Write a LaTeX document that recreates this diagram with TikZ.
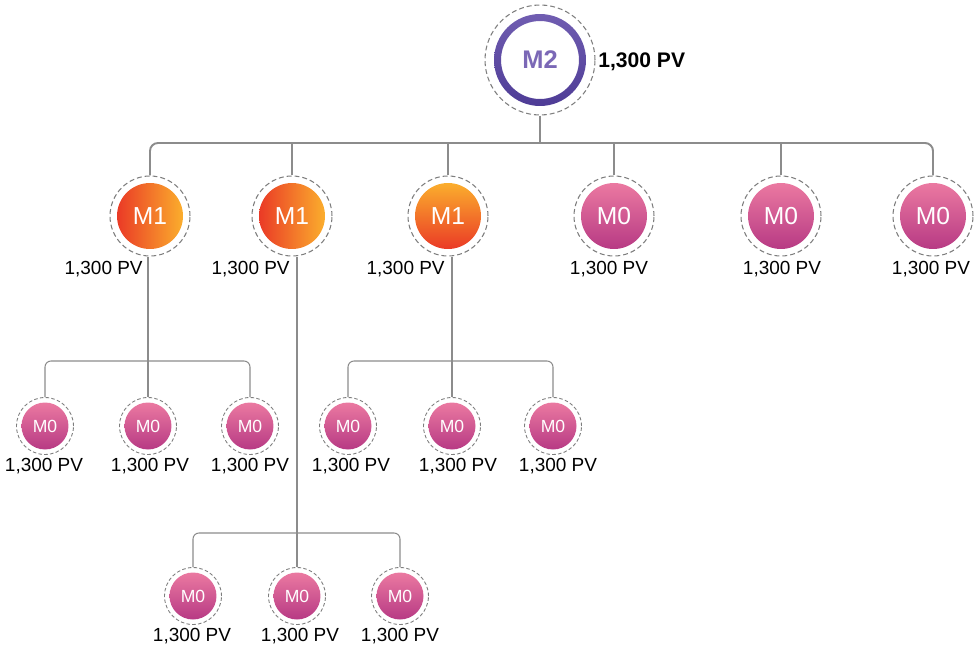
\documentclass[tikz,border=0pt]{standalone}
\usepackage{fontspec}
\setmainfont{Liberation Sans}

\definecolor{ringgray}{HTML}{7E7E7E}
\definecolor{linegray}{HTML}{8C8C8C}
\definecolor{mred}{HTML}{EA3A26}
\definecolor{myellow}{HTML}{FBAE2D}
\definecolor{pinktop}{HTML}{EB79A1}
\definecolor{pinkbot}{HTML}{B73A84}
\definecolor{purpletop}{HTML}{705DB1}
\definecolor{purplebot}{HTML}{4E3C96}
\definecolor{purpletext}{HTML}{7B68B6}

\tikzset{
  ring/.style={circle, draw=ringgray, dash pattern=on 2.8pt off 1.7pt, line width=0.6pt, minimum size=#1, inner sep=0pt},
  smallring/.style={ring=1.14cm, dash pattern=on 2pt off 1.3pt, line width=0.5pt},
  disc/.style={circle, minimum size=#1, inner sep=0pt, text=white},
  mone/.style={disc=1.32cm, left color=mred, right color=myellow, font=\fontsize{14}{16}\selectfont},
  monev/.style={disc=1.32cm, top color=myellow, bottom color=mred, font=\fontsize{14}{16}\selectfont},
  mzero/.style={disc=1.32cm, top color=pinktop, bottom color=pinkbot, font=\fontsize{14}{16}\selectfont},
  mzerosmall/.style={disc=0.94cm, top color=pinktop, bottom color=pinkbot, font=\fontsize{10}{12}\selectfont},
  pv/.style={font=\fontsize{10.8}{12}\selectfont, anchor=base, inner sep=0pt},
  topline/.style={draw=linegray, line width=1.1pt, rounded corners=4.5pt},
  subline/.style={draw=linegray, line width=0.6pt, rounded corners=3.4pt},
}

\begin{document}
\begin{tikzpicture}[x=0.02cm, y=-0.02cm]
\useasboundingbox (0,0) rectangle (980,649);

% top
\node[ring=2.2cm] (m2) at (540,60) {};
\shade[top color=purpletop, bottom color=purplebot, even odd rule] (m2.center) circle (0.92cm) circle (0.78cm);
\node[text=purpletext, font=\bfseries\fontsize{14.5}{16}\selectfont] (m2 text) at (m2) {M2};
\node[pv, anchor=base west, font=\bfseries\fontsize{12}{14}\selectfont] (pv m2) at (598,67) {1,300 PV};

% first row
\node[ring=1.6cm] (m1a) at (150,216) {};
\node[mone] (m1a disc) at (m1a) {M1};
\node[ring=1.6cm] (m1b) at (292,216) {};
\node[mone] (m1b disc) at (m1b) {M1};
\node[ring=1.6cm] (m1c) at (448,216) {};
\node[monev] (m1c disc) at (m1c) {M1};
\node[ring=1.6cm] (m0a) at (614,216) {};
\node[mzero] (m0a disc) at (m0a) {M0};
\node[ring=1.6cm] (m0b) at (781,216) {};
\node[mzero] (m0b disc) at (m0b) {M0};
\node[ring=1.6cm] (m0c) at (933,216) {};
\node[mzero] (m0c disc) at (m0c) {M0};

\node[pv, anchor=base east] (pv m1a) at (143,274) {1,300 PV};
\node[pv, anchor=base east] (pv m1b) at (290,274) {1,300 PV};
\node[pv, anchor=base east] (pv m1c) at (445,274) {1,300 PV};
\node[pv] (pv m0a) at (609,274) {1,300 PV};
\node[pv] (pv m0b) at (782,274) {1,300 PV};
\node[pv] (pv m0c) at (931,274) {1,300 PV};

% second row
\node[smallring] (m0d) at (45,426) {};
\node[mzerosmall] (m0d disc) at (m0d) {M0};
\node[smallring] (m0e) at (148,426) {};
\node[mzerosmall] (m0e disc) at (m0e) {M0};
\node[smallring] (m0f) at (250,426) {};
\node[mzerosmall] (m0f disc) at (m0f) {M0};
\node[smallring] (m0g) at (348,426) {};
\node[mzerosmall] (m0g disc) at (m0g) {M0};
\node[smallring] (m0h) at (452,426) {};
\node[mzerosmall] (m0h disc) at (m0h) {M0};
\node[smallring] (m0i) at (553,426) {};
\node[mzerosmall] (m0i disc) at (m0i) {M0};

\node[pv] (pv m0d) at (44,471) {1,300 PV};
\node[pv] (pv m0e) at (150,471) {1,300 PV};
\node[pv] (pv m0f) at (250,471) {1,300 PV};
\node[pv] (pv m0g) at (351,471) {1,300 PV};
\node[pv] (pv m0h) at (458,471) {1,300 PV};
\node[pv] (pv m0i) at (558,471) {1,300 PV};

% third row
\node[smallring] (m0j) at (193,596) {};
\node[mzerosmall] (m0j disc) at (m0j) {M0};
\node[smallring] (m0k) at (297,596) {};
\node[mzerosmall] (m0k disc) at (m0k) {M0};
\node[smallring] (m0l) at (400,596) {};
\node[mzerosmall] (m0l disc) at (m0l) {M0};

\node[pv] (pv m0j) at (192,641) {1,300 PV};
\node[pv] (pv m0k) at (300,641) {1,300 PV};
\node[pv] (pv m0l) at (400,641) {1,300 PV};

% lines
\coordinate (bus top) at (540,143);
\coordinate (bus left) at (148,361);
\coordinate (bus right) at (452,361);
\coordinate (bus low) at (297,533);

\draw[topline] (m2.south) -- (bus top);
\draw[topline] (m1a.north) |- (bus top) -| (m0c.north);
\draw[topline] (m1b.north) -- (m1b.north |- bus top);
\draw[topline] (m1c.north) -- (m1c.north |- bus top);
\draw[topline] (m0a.north) -- (m0a.north |- bus top);
\draw[topline] (m0b.north) -- (m0b.north |- bus top);

\draw[subline] (m0d.north) |- (bus left) -| (m0f.north);
\draw[subline] (m1a.south -| bus left) -- (m0e.north);
\draw[subline] (m0g.north) |- (bus right) -| (m0i.north);
\draw[subline] (m1c.south -| bus right) -- (m0h.north);
\draw[subline] (m0j.north) |- (bus low) -| (m0l.north);
\draw[subline] (m1b.south -| bus low) -- (m0k.north);

\end{tikzpicture}
\end{document}
